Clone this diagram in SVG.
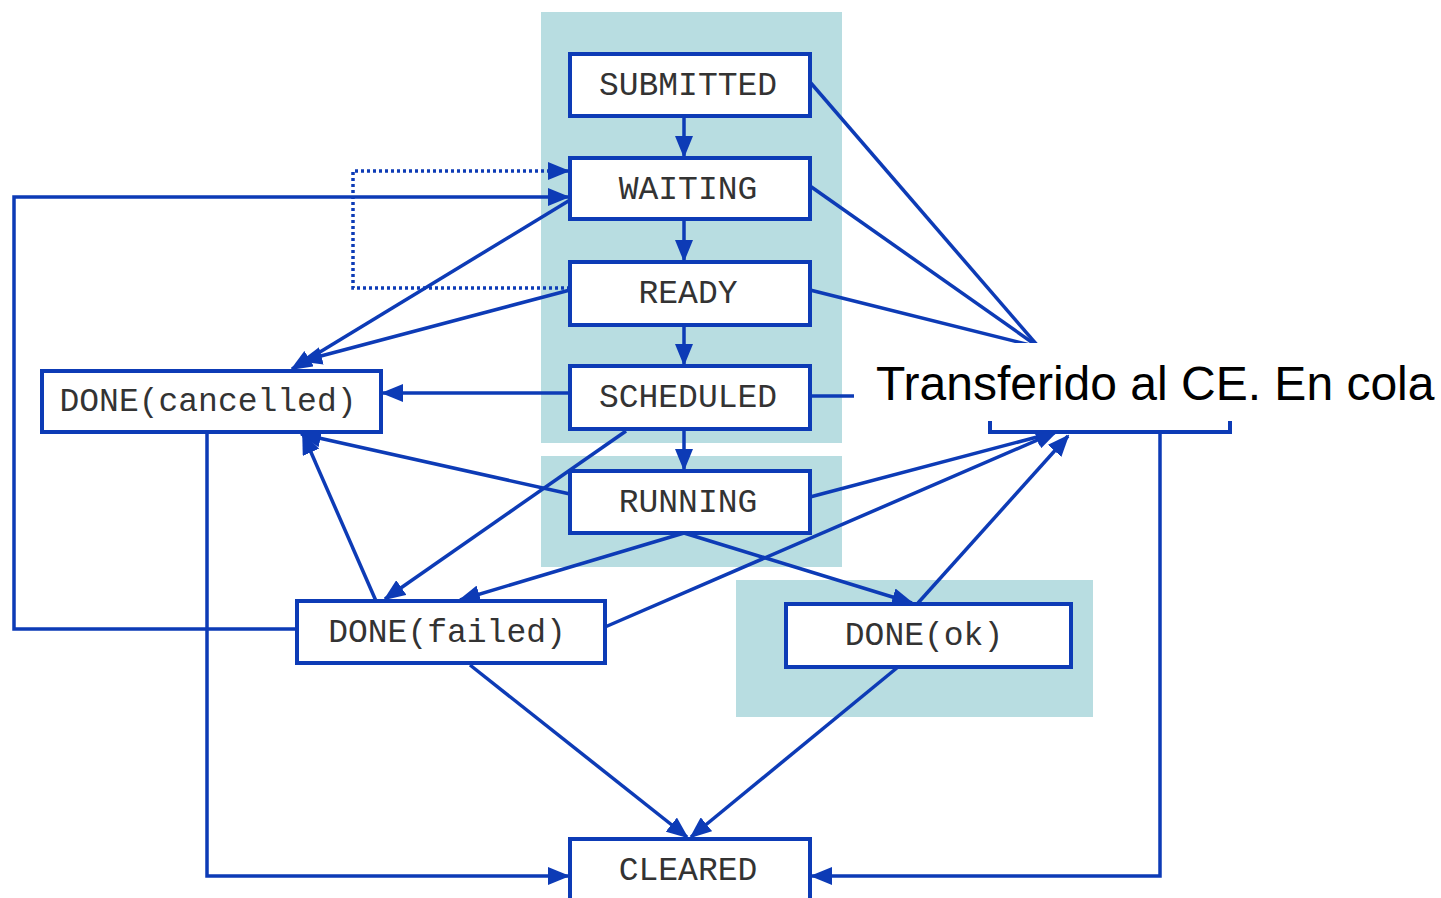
<svg xmlns="http://www.w3.org/2000/svg" width="1441" height="898" viewBox="0 0 1441 898">
<style>
.bg{fill:#b8dde1}
.box{fill:#ffffff;stroke:#0d3bb6;stroke-width:4}
.lbl{font-family:"Liberation Mono","Courier New",monospace;font-size:33px;fill:#333;text-anchor:middle}
.c{fill:none;stroke:#0d3bb6;stroke-width:3.5}
.dot{stroke-dasharray:3 3}
.a{marker-end:url(#ah)}
.note{font-family:"Liberation Sans",Arial,sans-serif;font-size:48px;fill:#000}
</style>
<defs>
<marker id="ah" markerUnits="userSpaceOnUse" markerWidth="22" markerHeight="18" refX="20" refY="9" orient="auto" viewBox="0 0 22 18">
<path d="M0,0 L22,9 L0,18 z" fill="#0d3bb6"/>
</marker>
</defs>
<rect width="1441" height="898" fill="#ffffff"/>
<g id="backgrounds">
<rect class="bg" x="541" y="12" width="301" height="431"/>
<rect class="bg" x="541" y="456" width="301" height="111"/>
<rect class="bg" x="736" y="580" width="357" height="137"/>
</g>
<g id="connectors">
<line class="c a" x1="684" y1="116" x2="684" y2="156"/>
<line class="c a" x1="684" y1="219" x2="684" y2="260"/>
<line class="c a" x1="684" y1="325" x2="684" y2="364"/>
<line class="c a" x1="684" y1="429" x2="684" y2="469"/>
<polyline class="c dot a" points="570,288 353,288 353,171 568,171"/>
<polyline class="c a" points="297,629 14,629 14,197 568,197"/>
<line class="c a" x1="570" y1="200" x2="292" y2="369"/>
<line class="c a" x1="570" y1="290" x2="302" y2="361"/>
<line class="c a" x1="570" y1="393" x2="383" y2="393"/>
<line class="c a" x1="570" y1="494" x2="301" y2="434"/>
<line class="c a" x1="376" y1="601" x2="303" y2="434"/>
<line class="c a" x1="626" y1="431" x2="385" y2="599"/>
<line class="c a" x1="684" y1="533" x2="460" y2="600"/>
<line class="c a" x1="684" y1="533" x2="912" y2="603"/>
<line class="c a" x1="605" y1="627" x2="1056" y2="432"/>
<line class="c a" x1="810" y1="497" x2="1056" y2="432"/>
<line class="c a" x1="918" y1="603" x2="1068" y2="436"/>
<line class="c" x1="810" y1="82" x2="1050" y2="360"/>
<line class="c" x1="810" y1="186" x2="1050" y2="355"/>
<line class="c" x1="810" y1="290" x2="1050" y2="350"/>
<line class="c" x1="810" y1="396" x2="900" y2="396"/>
<polyline class="c a" points="1160,432 1160,876 812,876"/>
<polyline class="c a" points="207,432 207,876 568,876"/>
<line class="c a" x1="470" y1="665" x2="687" y2="837"/>
<line class="c a" x1="898" y1="667" x2="691" y2="837"/>
</g>
<g id="n-submitted"><rect class="box" x="570" y="54" width="240" height="62"/><text class="lbl" x="688" y="95">SUBMITTED</text></g>
<g id="n-waiting"><rect class="box" x="570" y="158" width="240" height="61"/><text class="lbl" x="688" y="199">WAITING</text></g>
<g id="n-ready"><rect class="box" x="570" y="262" width="240" height="63"/><text class="lbl" x="688" y="303">READY</text></g>
<g id="n-scheduled"><rect class="box" x="570" y="366" width="240" height="63"/><text class="lbl" x="688" y="407">SCHEDULED</text></g>
<g id="n-running"><rect class="box" x="570" y="471" width="240" height="62"/><text class="lbl" x="688" y="512">RUNNING</text></g>
<g id="n-cancelled"><rect class="box" x="42" y="371" width="339" height="61"/><text class="lbl" x="208" y="411">DONE(cancelled)</text></g>
<g id="n-failed"><rect class="box" x="297" y="601" width="308" height="62"/><text class="lbl" x="447" y="642">DONE(failed)</text></g>
<g id="n-ok"><rect class="box" x="786" y="604" width="285" height="63"/><text class="lbl" x="924" y="645">DONE(ok)</text></g>
<g id="n-cleared"><rect class="box" x="570" y="839" width="240" height="70"/><text class="lbl" x="688" y="880">CLEARED</text></g>
<g id="n-right"><rect class="box" x="990" y="370" width="240" height="62"/></g>
<g id="note">
<rect x="854" y="343" width="587" height="78" fill="#ffffff"/>
<text class="note" x="876" y="400">Transferido al CE. En cola</text>
</g>
</svg>
